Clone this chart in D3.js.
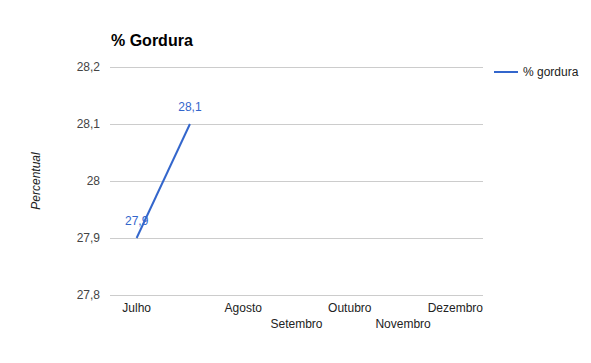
<!DOCTYPE html>
<html><head><meta charset="utf-8">
<script src="https://cdn.jsdelivr.net/npm/d3@7/dist/d3.min.js"></script>
<style>body{margin:0;background:#fff}svg{display:block;font-family:"Liberation Sans",Arial,sans-serif}</style>
</head><body><svg id="c" width="591" height="363"></svg>
<script>
const categories = ["Julho", "", "Agosto", "Setembro", "Outubro", "Novembro", "Dezembro"];
const values = [27.9, 28.1, null, null, null, null, null];
const valueLabels = ["27,9", "28,1", "", "", "", "", ""];
const yTicks = [27.8, 27.9, 28.0, 28.1, 28.2];
const yTickLabels = ["27,8", "27,9", "28", "28,1", "28,2"];
const seriesName = "% gordura";
const title = "% Gordura";
const yTitle = "Percentual";

const svg = d3.select("#c");
const L = 110, R = 483, T = 67, B = 295;
const x = d3.scaleBand().domain(d3.range(categories.length)).range([L, R]);
const y = d3.scaleLinear().domain([27.8, 28.2]).range([B, T]);
const blue = "#3366cc";

svg.append("text").attr("x", 111).attr("y", 46).attr("font-size", 16).attr("font-weight", "bold").attr("fill", "#000").text(title);

const yAxis = d3.axisLeft(y).tickValues(yTicks).tickFormat((d, i) => yTickLabels[i]).tickSize(-(R - L)).tickPadding(10);
const gy = svg.append("g").attr("transform", `translate(${L},0)`).call(yAxis);
gy.select(".domain").remove();
gy.selectAll(".tick line").attr("stroke", "#cccccc").attr("shape-rendering", "crispEdges");
gy.selectAll(".tick text").attr("font-size", 12).attr("fill", "#444").attr("font-family", "Liberation Sans, Arial, sans-serif");

const xAxis = d3.axisBottom(x).tickFormat(i => categories[i]).tickSize(0).tickPadding(0);
const gx = svg.append("g").attr("transform", `translate(0,${B})`).call(xAxis);
gx.select(".domain").remove();
gx.selectAll(".tick text").attr("font-size", 12).attr("fill", "#222").attr("font-family", "Liberation Sans, Arial, sans-serif")
  .attr("dy", null)
  .attr("y", (d, i) => i % 2 === 0 ? 17 : 33)
  .attr("text-anchor", (d, i) => i === categories.length - 1 ? "end" : "middle")
  .attr("dx", (d, i) => i === categories.length - 1 ? (R - (x(i) + x.bandwidth() / 2)) : 0);

svg.append("text").attr("transform", `translate(40,181) rotate(-90)`).attr("text-anchor", "middle")
  .attr("font-size", 12).attr("font-style", "italic").attr("fill", "#222").text(yTitle);

const pts = values.map((v, i) => ({v, i})).filter(d => d.v != null);
const line = d3.line().x(d => x(d.i) + x.bandwidth() / 2).y(d => y(d.v));
svg.append("path").datum(pts).attr("d", line).attr("fill", "none").attr("stroke", blue).attr("stroke-width", 2);

svg.selectAll(".vl").data(pts).enter().append("text")
  .attr("x", d => x(d.i) + x.bandwidth() / 2).attr("y", d => y(d.v) - 13)
  .attr("text-anchor", "middle").attr("font-size", 12).attr("fill", blue)
  .text(d => valueLabels[d.i]);

svg.append("line").attr("x1", 494).attr("x2", 518).attr("y1", 72).attr("y2", 72).attr("stroke", blue).attr("stroke-width", 2);
svg.append("text").attr("x", 523).attr("y", 76).attr("font-size", 12).attr("fill", "#222").text(seriesName);
</script></body></html>
